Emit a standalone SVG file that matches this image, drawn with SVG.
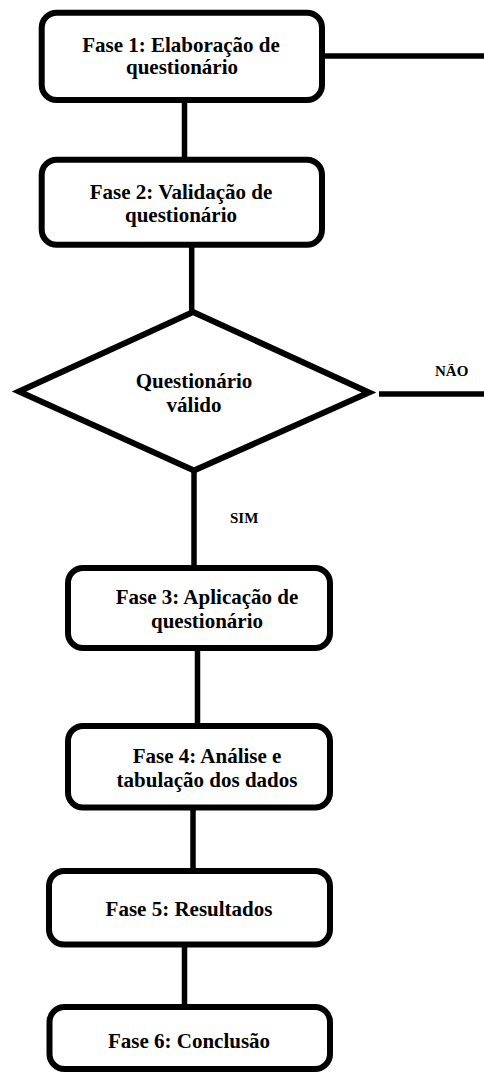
<svg xmlns="http://www.w3.org/2000/svg" width="484" height="1073" viewBox="0 0 484 1073">
<style>
.box{fill:#fff;stroke:#000;stroke-width:6}
.dia{fill:#fff;stroke:#000;stroke-width:6;stroke-linejoin:miter}
.ln{stroke:#000;stroke-width:5.5;fill:none}
text{font-family:'Liberation Serif','Times New Roman',serif;font-weight:700;fill:#000}
.t{font-size:21px;text-anchor:middle}
.lbl{font-size:15px}
</style>
<defs><clipPath id="naoClip"><rect x="420" y="364" width="64" height="22"/></clipPath></defs>
<rect width="484" height="1073" fill="#fff"/>
<g id="connectors">
<line class="ln" x1="322" y1="56" x2="484" y2="56"/>
<line class="ln" x1="184.5" y1="100" x2="184.5" y2="160"/>
<line class="ln" x1="191.7" y1="245" x2="191.7" y2="312"/>
<line class="ln" x1="379" y1="394" x2="484" y2="394"/>
<line class="ln" x1="194" y1="470" x2="194" y2="568"/>
<line class="ln" x1="197.5" y1="648" x2="197.5" y2="726"/>
<line class="ln" x1="193" y1="807" x2="193" y2="871"/>
<line class="ln" x1="184.5" y1="944" x2="184.5" y2="1008"/>
<text class="lbl" x="435" y="376" clip-path="url(#naoClip)">NÃO</text>
<text class="lbl" x="230" y="523">SIM</text>
</g>
<g id="fase1">
<rect class="box" x="41.7" y="12.7" width="280.3" height="87.3" rx="15"/>
<text class="t" x="181" y="52">Fase 1: Elaboração de</text>
<text class="t" x="182" y="74">questionário</text>
</g>
<g id="fase2">
<rect class="box" x="41.7" y="159.7" width="280.3" height="85" rx="15"/>
<text class="t" x="181" y="199">Fase 2: Validação de</text>
<text class="t" x="181" y="221.7">questionário</text>
</g>
<g id="decisao">
<polygon class="dia" points="193,312 369,392.5 194,470.5 19,391.5"/>
<text class="t" x="194" y="387.7">Questionário</text>
<text class="t" x="194" y="411.7">válido</text>
</g>
<g id="fase3">
<rect class="box" x="68" y="568" width="262" height="80" rx="15"/>
<text class="t" x="207" y="604.3">Fase 3: Aplicação de</text>
<text class="t" x="207" y="628.3">questionário</text>
</g>
<g id="fase4">
<rect class="box" x="68" y="726" width="262" height="81.5" rx="15"/>
<text class="t" x="207" y="762.7">Fase 4: Análise e</text>
<text class="t" x="207" y="786.7">tabulação dos dados</text>
</g>
<g id="fase5">
<rect class="box" x="49" y="871" width="281" height="73.5" rx="15"/>
<text class="t" x="189" y="915.7">Fase 5: Resultados</text>
</g>
<g id="fase6">
<rect class="box" x="49.5" y="1007" width="280.5" height="62" rx="15"/>
<text class="t" x="189" y="1048.3">Fase 6: Conclusão</text>
</g>
</svg>
